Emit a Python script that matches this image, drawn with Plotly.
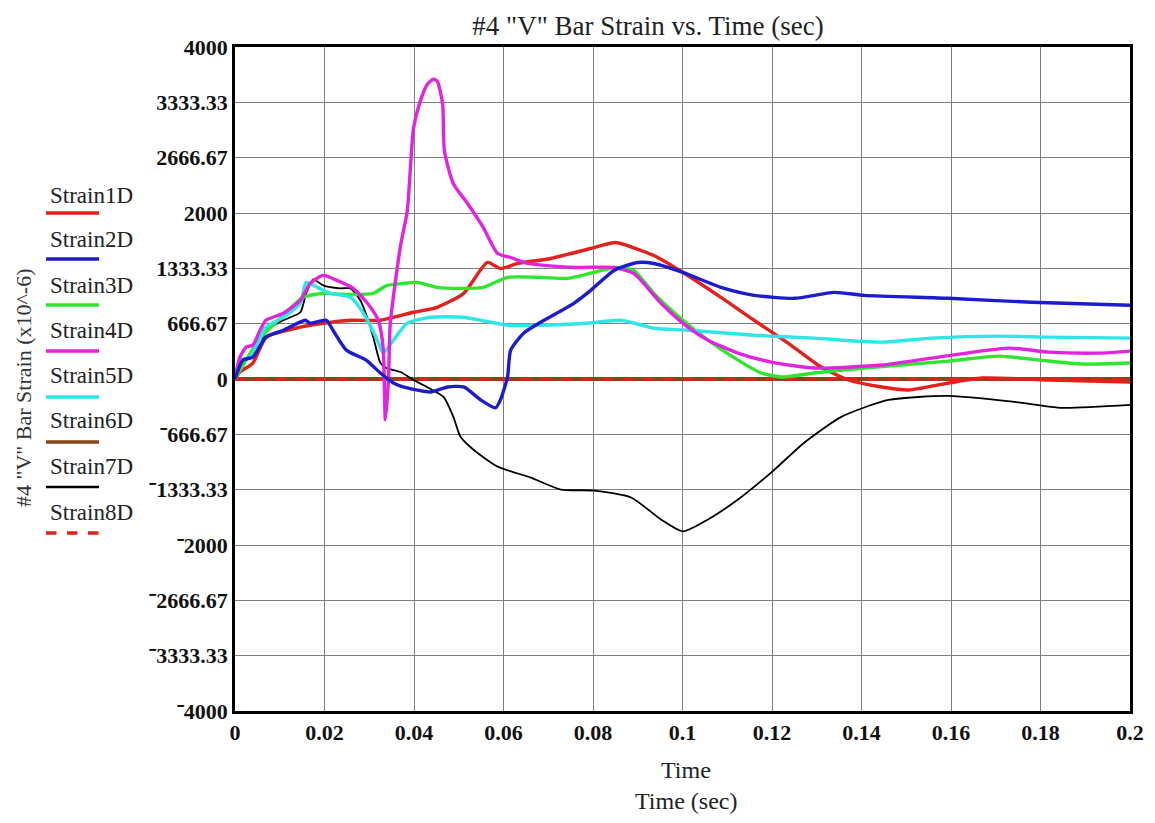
import plotly.graph_objects as go

# ---------------- data ----------------
t1 = [0, 0.0011, 0.004, 0.007, 0.0146, 0.0197, 0.0258, 0.0325, 0.0399, 0.0452, 0.0511, 0.0564, 0.0593,
      0.0632, 0.0705, 0.0795, 0.0851, 0.0907, 0.0936, 0.1001, 0.1086, 0.116, 0.1236, 0.131, 0.1371,
      0.1445, 0.1505, 0.1595, 0.1669, 0.1819, 0.2]
v1 = [0, 84, 192, 504, 624, 672, 708, 708, 804, 864, 1032, 1404, 1332,
      1392, 1452, 1572, 1644, 1548, 1488, 1284, 984, 708, 432, 144, -12,
      -96, -132, -48, 12, -12, -36]

t2 = [0, 0.0018, 0.004, 0.0069, 0.0108, 0.0157, 0.0168, 0.0204, 0.0219, 0.0249, 0.0293, 0.0325, 0.0354,
      0.0385, 0.0437, 0.0475, 0.0511, 0.0549, 0.0582, 0.0593, 0.0609, 0.0616, 0.0645, 0.0683, 0.0757,
      0.0795, 0.0847, 0.09, 0.0936, 0.1001, 0.1086, 0.116, 0.125, 0.1339, 0.1406, 0.1595, 0.178, 0.2]
v2 = [0, 228, 264, 504, 588, 708, 672, 708, 588, 348, 228, 72, -48,
      -108, -156, -96, -96, -252, -348, -252, 24, 348, 552, 684, 912,
      1068, 1308, 1404, 1392, 1284, 1104, 1008, 972, 1044, 1008, 972, 924, 888]

t3 = [0, 0.0022, 0.0056, 0.0101, 0.0152, 0.0197, 0.0249, 0.0309, 0.034, 0.0376, 0.0408, 0.0452, 0.0511,
      0.0555, 0.0609, 0.0683, 0.0744, 0.0802, 0.0847, 0.0891, 0.0936, 0.1001, 0.1057, 0.1124, 0.1176,
      0.1221, 0.1294, 0.1406, 0.1595, 0.1707, 0.1798, 0.1893, 0.2]
v3 = [0, 204, 492, 732, 984, 1032, 1020, 1032, 1128, 1152, 1164, 1104, 1092,
      1104, 1224, 1224, 1212, 1284, 1344, 1308, 1032, 708, 468, 228, 72,
      24, 72, 132, 216, 276, 228, 180, 192]

t4 = [0, 0.0011, 0.0025, 0.004, 0.0056, 0.0069, 0.0108, 0.0146, 0.0168, 0.0197, 0.0228, 0.0264, 0.0296,
      0.032, 0.0331, 0.0336, 0.0343, 0.0347, 0.037, 0.0385, 0.0399, 0.0414, 0.043, 0.0443, 0.0452,
      0.0464, 0.0468, 0.0488, 0.052, 0.0555, 0.0587, 0.0616, 0.0654, 0.0757, 0.0847, 0.0891, 0.0952,
      0.1012, 0.1057, 0.1124, 0.1198, 0.1294, 0.1445, 0.1557, 0.1729, 0.1819, 0.1931, 0.2]
v4 = [0, 264, 384, 408, 588, 708, 792, 948, 1152, 1248, 1188, 1092, 912,
      708, 384, -492, -12, 672, 1608, 2028, 3024, 3348, 3552, 3612, 3588,
      3312, 2748, 2352, 2112, 1824, 1512, 1464, 1392, 1344, 1344, 1272, 912,
      624, 468, 312, 204, 132, 168, 252, 372, 324, 312, 336]

t5 = [0, 0.0011, 0.0034, 0.0069, 0.0108, 0.0146, 0.0159, 0.0184, 0.0213, 0.0258, 0.0287, 0.0318, 0.0331,
      0.0354, 0.0385, 0.0437, 0.0511, 0.0609, 0.0683, 0.0788, 0.0862, 0.0936, 0.1012, 0.116, 0.1294,
      0.1445, 0.1557, 0.1707, 0.1819, 0.2]
v5 = [0, 228, 264, 624, 744, 912, 1164, 1104, 1032, 984, 792, 468, 312,
      468, 672, 744, 744, 648, 648, 672, 708, 612, 588, 528, 492,
      444, 492, 516, 504, 492]

t6 = [0, 0.2]
v6 = [0, 0]

t7 = [0, 0.0011, 0.0034, 0.0056, 0.0069, 0.0108, 0.0146, 0.0159, 0.0175, 0.0197, 0.0235, 0.0258, 0.028,
      0.0296, 0.0309, 0.0325, 0.0338, 0.037, 0.0399, 0.0437, 0.0466, 0.0488, 0.0504, 0.0533, 0.0587,
      0.0661, 0.0728, 0.0802, 0.0885, 0.0952, 0.1001, 0.1057, 0.1124, 0.1198, 0.1272, 0.1355, 0.146,
      0.1595, 0.1742, 0.1848, 0.2]
v7 = [0, 192, 264, 384, 588, 708, 804, 1032, 1200, 1128, 1092, 1092, 948,
      732, 504, 192, 132, 84, -12, -120, -216, -456, -696, -852, -1056,
      -1188, -1332, -1344, -1428, -1692, -1836, -1692, -1452, -1128, -768, -456, -252,
      -204, -276, -348, -312]

t8 = [0, 0.2]
v8 = [0, 0]

names = ["Strain1D", "Strain2D", "Strain3D", "Strain4D", "Strain5D", "Strain6D", "Strain7D", "Strain8D"]
colors = ["#e3201b", "#1c1ccc", "#2ee62e", "#e024e0", "#2ee6e6", "#8b4513", "#000000", "#e3201b"]
widths = [3.4, 3.4, 3.4, 3.4, 3.4, 4.0, 1.8, 3.4]
dashes = ["solid", "solid", "solid", "solid", "solid", "solid", "solid", "dash"]

yticks = [-4000, -3333.33, -2666.67, -2000, -1333.33, -666.67, 0, 666.67, 1333.33, 2000, 2666.67, 3333.33, 4000]
yticklabels = ["\u207b4000", "\u207b3333.33", "\u207b2666.67", "\u207b2000", "\u207b1333.33", "\u207b666.67", "0",
               "666.67", "1333.33", "2000", "2666.67", "3333.33", "4000"]
xticks = [0, 0.02, 0.04, 0.06, 0.08, 0.1, 0.12, 0.14, 0.16, 0.18, 0.2]
xticklabels = ["0", "0.02", "0.04", "0.06", "0.08", "0.1", "0.12", "0.14", "0.16", "0.18", "0.2"]

# ---------------- layout geometry (reference pixels; page body has 8px margin) ----------------
OFF = 8
W, H = 1155 - 2 * OFF, 823 - 2 * OFF
L, R, T, B = 235, 1130, 47, 711


def px(x):
    return (x - L) / (R - L)


def py(y):
    return (B - y) / (B - T)


FONT = "Liberation Serif, Times New Roman, serif"

fig = go.Figure()
series = [(t1, v1), (t2, v2), (t3, v3), (t4, v4), (t5, v5), (t6, v6), (t7, v7), (t8, v8)]
order = [5, 7, 6, 0, 2, 4, 3, 1]
for i in order:
    tx, vy = series[i]
    fig.add_trace(go.Scatter(x=tx, y=vy, mode="lines", name=names[i],
                             line=dict(color=colors[i], width=widths[i], dash=dashes[i],
                                       shape="spline", smoothing=0.6),
                             showlegend=False))

# custom legend (text above a line sample)
text_y = [195, 240, 285, 330, 375, 420, 466, 512]
line_y = [213, 259, 305, 351, 397, 442, 487, 533]
for i, nm in enumerate(names):
    fig.add_annotation(x=px(48), y=py(text_y[i]), xref="paper", yref="paper", text=nm,
                       showarrow=False, xanchor="left", yanchor="middle",
                       font=dict(family=FONT, size=23, color="#222"))
    fig.add_shape(type="line", xref="paper", yref="paper", x0=px(46), x1=px(99),
                  y0=py(line_y[i]), y1=py(line_y[i]),
                  line=dict(color=colors[i], width=3.5 if i != 6 else 2.5, dash=dashes[i]))

# axis titles
fig.add_annotation(x=px(686), y=py(770), xref="paper", yref="paper", text="Time", showarrow=False,
                   font=dict(family=FONT, size=24, color="#222"), xanchor="center", yanchor="middle")
fig.add_annotation(x=px(686), y=py(801), xref="paper", yref="paper", text="Time (sec)", showarrow=False,
                   font=dict(family=FONT, size=24, color="#222"), xanchor="center", yanchor="middle")
fig.add_annotation(x=px(24), y=py(388), xref="paper", yref="paper", text='#4 "V" Bar Strain (x10^-6)',
                   showarrow=False, textangle=-90,
                   font=dict(family=FONT, size=22, color="#333"), xanchor="center", yanchor="middle")

fig.update_layout(
    width=W, height=H,
    margin=dict(l=L - OFF, r=(1155 - OFF) - R, t=T - OFF, b=(823 - OFF) - B, autoexpand=False),
    paper_bgcolor="white", plot_bgcolor="white",
    title=dict(text='#4 "V" Bar Strain vs. Time (sec)', xref="paper", x=px(648),
               yref="container", y=1 - (26 - OFF) / H,
               xanchor="center", yanchor="middle",
               font=dict(family=FONT, size=27, color="#222")),
    showlegend=False,
)
fig.update_xaxes(range=[0, 0.2], tickvals=xticks, ticktext=xticklabels, automargin=False,
                 showgrid=True, gridcolor="#7f7f7f", gridwidth=1.2,
                 showline=True, linecolor="black", linewidth=2.5, mirror=True,
                 zeroline=False, ticks="",
                 tickfont=dict(family=FONT, size=22, color="#111", weight="bold"))
fig.update_yaxes(range=[-4000, 4000], tickvals=yticks, ticktext=yticklabels, automargin=False,
                 showgrid=True, gridcolor="#7f7f7f", gridwidth=1.2,
                 showline=True, linecolor="black", linewidth=2.5, mirror=True,
                 zeroline=False, ticks="",
                 tickfont=dict(family=FONT, size=22, color="#111", weight="bold"))

fig.write_html("out.html")
